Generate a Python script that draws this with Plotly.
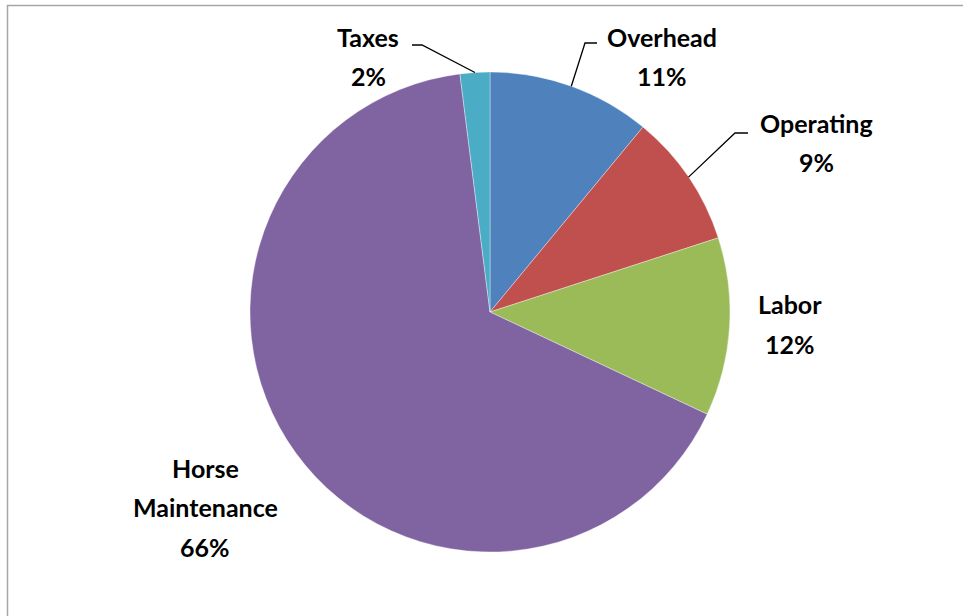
import math
import plotly.graph_objects as go

# Cost breakdown (percent of total), clockwise from 12 o'clock
categories = ["Overhead", "Operating", "Labor", "Horse Maintenance", "Taxes"]
shares = [11, 9, 12, 66, 2]
colors = ["#4F81BD", "#C0504D", "#9BBB59", "#8064A2", "#4BACC6"]

W, H = 963, 616
cx, cy, r = 490, 312, 240  # pie centre and radius in pixels

fig = go.Figure(go.Pie(
    labels=categories,
    values=shares,
    sort=False,
    direction="clockwise",
    rotation=0,
    marker=dict(colors=colors, line=dict(color="rgba(255,255,255,0.6)", width=0.6)),
    textinfo="none",
    hoverinfo="label+percent",
    domain=dict(x=[(cx - r) / W, (cx + r) / W], y=[(H - cy - r) / H, (H - cy + r) / H]),
    showlegend=False,
))

def px(x, y):
    return x / W, 1 - y / H

def edge_point(i):
    # point on the rim at the middle of slice i
    total = sum(shares)
    before = sum(shares[:i])
    frac = (before + shares[i] / 2) / total
    a = 2 * math.pi * frac
    return cx + r * math.sin(a), cy - r * math.cos(a)

font = dict(family="Lato, 'Open Sans', sans-serif", size=25, color="#000000")
annotations = []
# label lines: (slice index, centre x, list of (text, y))
label_layout = [
    (0, 662, [(categories[0], 37), ("11%", 76)]),
    (1, 816, [(categories[1], 123), ("9%", 162)]),
    (2, 790, [(categories[2], 304), ("12%", 344)]),
    (3, 205, [("Horse", 468), ("Maintenance", 507), ("66%", 547)]),
    (4, 368, [(categories[4], 37), ("2%", 76)]),
]
for idx, xc, lines in label_layout:
    for txt, yc in lines:
        x, y = px(xc, yc)
        annotations.append(dict(
            x=x, y=y, xref="paper", yref="paper", text="<b>%s</b>" % txt,
            showarrow=False, font=font, xanchor="center", yanchor="middle",
        ))

# leader lines from label to slice rim: (slice index, label-side start, elbow)
leaders = [
    (0, (597, 43), (585, 43)),
    (1, (748, 133), (735, 133)),
    (4, (412, 45), (422, 45)),
]
shapes = []
for idx, start, elbow in leaders:
    ex, ey = edge_point(idx)
    pts = [px(*start), px(*elbow), px(ex, ey)]
    path = "M %f %f L %f %f L %f %f" % (pts[0][0], pts[0][1], pts[1][0], pts[1][1], pts[2][0], pts[2][1])
    shapes.append(dict(type="path", xref="paper", yref="paper", path=path,
                       line=dict(color="#000000", width=1.3)))

# chart area frame
shapes.append(dict(type="rect", xref="paper", yref="paper",
                   x0=7.5 / W, x1=1.02, y0=-0.02, y1=1 - 5.5 / H,
                   line=dict(color="#A6A6A6", width=1.5), fillcolor="rgba(0,0,0,0)", layer="below"))

fig.update_layout(
    width=W, height=H,
    margin=dict(l=0, r=0, t=0, b=0),
    paper_bgcolor="white", plot_bgcolor="white",
    annotations=annotations,
    shapes=shapes,
)

fig.write_html("out.html")
